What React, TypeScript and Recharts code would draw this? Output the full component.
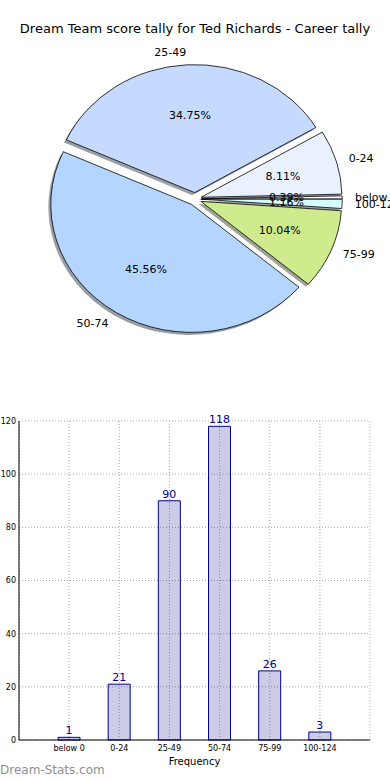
import React from 'react';
import {
  PieChart,
  Pie,
  Cell,
  Sector,
  BarChart,
  Bar,
  XAxis,
  YAxis,
  CartesianGrid,
  LabelList,
} from 'recharts';

// score ranges and how often each one happened
const ranges = ['below 0', '0-24', '25-49', '50-74', '75-99', '100-124'];
const tally = [1, 21, 90, 118, 26, 3];
const sliceColors = ['#fafcff', '#e9f1ff', '#c6d9ff', '#b4d5ff', '#d0eb8e', '#d6fbff'];
const yTicks = [0, 20, 40, 60, 80, 100, 120];

const chartData = ranges.map((range, i) => ({ range, freq: tally[i] }));

const FONT = '"DejaVu Sans", sans-serif';
const R = 128; // vertical radius
const SX = 1.1; // pie is a bit wider than tall
const EXPLODE = 0.05;
const RAD = Math.PI / 180;

// darken like matplotlib's shadow (0.3 * colour)
function shadowColor(hex: string) {
  const n = parseInt(hex.slice(1), 16);
  const r = Math.round(((n >> 16) & 255) * 0.3);
  const g = Math.round(((n >> 8) & 255) * 0.3);
  const b = Math.round((n & 255) * 0.3);
  return `rgb(${r},${g},${b})`;
}

function slice(props: any, shadow: boolean) {
  const { cx, cy, midAngle, index } = props;
  const dx = EXPLODE * R * Math.cos(midAngle * RAD) + (shadow ? -2.4 : 0);
  const dy = -EXPLODE * R * Math.sin(midAngle * RAD) + (shadow ? 2.6 : 0);
  return (
    <g transform={`translate(${cx} ${cy}) scale(${SX} 1) translate(${-cx + dx / SX} ${-cy + dy})`}>
      <Sector
        {...props}
        fill={shadow ? shadowColor(sliceColors[index]) : sliceColors[index]}
        fillOpacity={shadow ? 0.5 : 1}
        stroke={shadow ? 'none' : '#000'}
        strokeWidth={shadow ? 0 : 0.75}
      />
    </g>
  );
}

function sliceLabel(props: any) {
  const { cx, cy, midAngle, percent, index } = props;
  const c = Math.cos(midAngle * RAD);
  const s = Math.sin(midAngle * RAD);
  const ox = cx + EXPLODE * R * SX * c;
  const oy = cy - EXPLODE * R * s;
  return (
    <g>
      <text
        x={ox + 1.1 * R * SX * c - (c > 0 ? 2 : 0)}
        y={oy - 1.1 * R * s}
        textAnchor={c > 0 ? 'start' : 'end'}
        dominantBaseline="central"
        fontSize={11}
        fontFamily={FONT}
        fill="#000"
      >
        {ranges[index]}
      </text>
      <text
        x={ox + 0.6 * R * SX * c}
        y={oy - 0.6 * R * s}
        textAnchor="middle"
        dominantBaseline="central"
        fontSize={11}
        fontFamily={FONT}
        fill="#000"
      >
        {(percent * 100).toFixed(2)}%
      </text>
    </g>
  );
}

export default function App() {
  return (
    <div style={{ position: 'absolute', left: 0, top: 0, width: 390, height: 780, background: '#fff', fontFamily: FONT }}>
      <div style={{ position: 'absolute', top: 21, width: 390, textAlign: 'center', fontSize: 13, color: '#000' }}>
        Dream Team score tally for Ted Richards - Career tally
      </div>
      <div style={{ position: 'absolute', top: 0, left: 0 }}>
        <PieChart width={390} height={390} margin={{ top: 0, right: 0, bottom: 0, left: 0 }}>
          <Pie
            data={chartData}
            dataKey="freq"
            cx={195}
            cy={199}
            outerRadius={R}
            startAngle={0}
            endAngle={360}
            stroke="none"
            isAnimationActive={false}
            shape={(p: any) => slice(p, true)}
          />
          <Pie
            data={chartData}
            dataKey="freq"
            cx={195}
            cy={199}
            outerRadius={R}
            startAngle={0}
            endAngle={360}
            isAnimationActive={false}
            labelLine={false}
            label={sliceLabel}
            shape={(p: any) => slice(p, false)}
          >
            {chartData.map((d, i) => (
              <Cell key={d.range} fill={sliceColors[i]} />
            ))}
          </Pie>
        </PieChart>
      </div>
      <div style={{ position: 'absolute', top: 400, left: 0 }}>
        <BarChart width={390} height={380} data={chartData} margin={{ top: 21, right: 20, left: 0, bottom: 0 }}>
          <CartesianGrid stroke="#a8a8a8" strokeDasharray="1 2" />
          <Bar dataKey="freq" barSize={22} fill="#000080" fillOpacity={0.2} stroke="#00008b" strokeWidth={1} isAnimationActive={false}>
            <LabelList dataKey="freq" position="top" offset={3} fill="#00008b" fontSize={11} fontFamily={FONT} />
          </Bar>
          <XAxis
            dataKey="range"
            padding={{ left: 25, right: 25 }}
            height={40}
            interval={0}
            tickSize={0}
            tickMargin={5}
            tickLine={false}
            axisLine={{ stroke: '#000' }}
            tick={{ fontSize: 8, fill: '#000', fontFamily: FONT }}
            label={{ value: 'Frequency', position: 'insideBottom', offset: 15, fontSize: 10, fill: '#000', fontFamily: FONT }}
          />
          <XAxis xAxisId="top" dataKey="range" orientation="top" height={0} tick={false} tickLine={false} axisLine={{ stroke: '#000' }} />
          <YAxis
            domain={[0, 120]}
            ticks={yTicks}
            width={19}
            tickSize={0}
            tickMargin={3}
            tickLine={false}
            axisLine={{ stroke: '#000' }}
            tick={{ fontSize: 8, fill: '#000', fontFamily: FONT }}
          />
          <YAxis yAxisId="right" orientation="right" domain={[0, 120]} width={0} tick={false} tickLine={false} axisLine={{ stroke: '#000' }} />
        </BarChart>
      </div>
      <div style={{ position: 'absolute', left: 0, top: 763, fontSize: 12, color: '#8f8f8f', fontFamily: FONT }}>
        Dream-Stats.com
      </div>
    </div>
  );
}
